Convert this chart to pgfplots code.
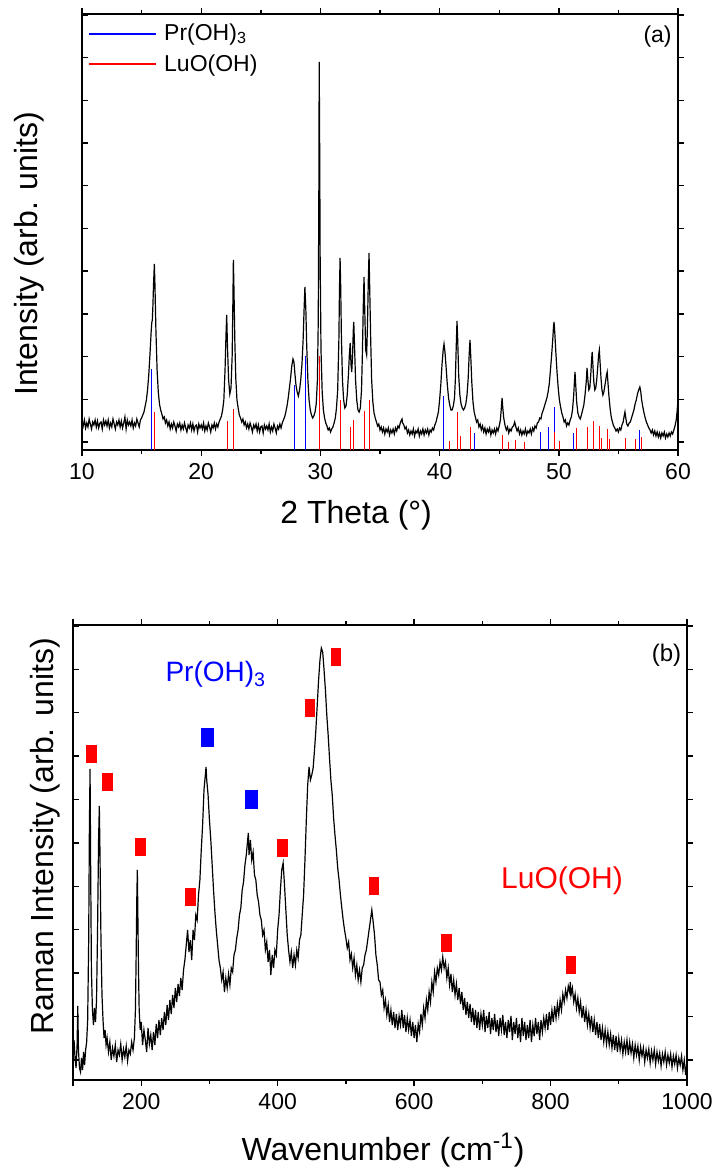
\documentclass[border=0pt]{standalone}
\usepackage{fontspec}
\setmainfont{Liberation Sans}
\usepackage{pgfplots}
\pgfplotsset{compat=1.18}

\newcommand{\ticksize}{\fontsize{11.5}{13.8}\selectfont}
\newcommand{\labsize}{\fontsize{16}{19.2}\selectfont}

\pgfplotsset{
  panel/.style={
    scale only axis,
    axis line style={line width=0.9pt},
    every tick/.style={black, line width=0.7pt},
    xtick align=outside,
    ytick align=inside,
    major tick length=3pt,
    minor tick length=2pt,
    xtick pos=both,
    ytick pos=left,
    yticklabels={},
    ymin=0,
    /pgf/number format/assume math mode=true,
    /pgf/number format/1000 sep={},
    tick label style={font=\ticksize},
    label style={font=\labsize},
  },
  rightticks/.style={
    scale only axis,
    axis line style={line width=0.9pt},
    every tick/.style={black, line width=0.7pt},
    major tick length=3pt,
    axis x line=none,
    axis y line*=right,
    ytick align=outside,
    yticklabels={},
    ymin=0,
  },
}

\begin{document}
\begin{tikzpicture}
\path[use as bounding box] (0,0) rectangle (359.5pt,588pt);

% (a) XRD pattern
\begin{axis}[panel,
  at={(41pt,363pt)}, anchor=south west,
  width=298pt, height=218pt,
  xmin=10, xmax=60, ymax=436,
  xtick={10,20,...,60}, minor x tick num=1,
  ytick={8,50.7,93.4,136.1,178.8,221.5,264.2,306.9,349.6,392.3,435},
  xlabel={2 Theta (°)},
  ylabel={Intensity (arb. units)},
  xlabel style={at={(axis description cs:0.46,-0.149)}, anchor=center},
  ylabel style={at={(axis description cs:-0.088,0.45)}, anchor=center},
  legend style={draw=none, fill=none, font=\ticksize,
    at={(axis description cs:0.005,0.997)}, anchor=north west,
    row sep=1.5pt, inner xsep=2pt},
  legend cell align=left,
]
\addlegendimage{legend image code/.code={\fill[blue] (0pt,-0.3pt) rectangle (33pt,0.3pt);}}
\addlegendentry{\hspace{2pt}Pr(OH)\textsubscript{3}}
\addlegendimage{legend image code/.code={\fill[red] (0pt,-0.3pt) rectangle (33pt,0.3pt);}}
\addlegendentry{\hspace{2pt}LuO(OH)}
\addplot[black, line width=0.6pt, forget plot] coordinates {
(10.0,29)(10.1,24)(10.2,30)(10.3,22)(10.4,27)(10.5,23)(10.6,31)(10.7,26)(10.8,21)(10.9,28)
(11.0,25)(11.1,30)(11.2,23)(11.3,29)(11.4,22)(11.5,27)(11.6,28)(11.7,21)(11.8,30)(11.9,25)
(12.0,29)(12.1,24)(12.2,30)(12.3,22)(12.4,27)(12.5,23)(12.6,31)(12.7,26)(12.8,21)(12.9,28)
(13.0,25)(13.1,30)(13.2,23)(13.3,29)(13.4,22)(13.5,27)(13.6,33)(13.7,21)(13.8,30)(13.9,25)
(14.0,28)(14.1,24)(14.2,30)(14.3,22)(14.4,27)(14.5,24)(14.6,31)(14.7,27)(14.8,23)(14.9,30)
(15.0,32)(15.1,35)(15.2,38)(15.3,44)(15.4,50)(15.5,60)(15.6,75)(15.7,95)(15.8,118)(15.85,127)
(15.9,130)(15.95,145)(16.0,165)(16.07,186)(16.12,165)(16.2,120)(16.3,80)(16.4,58)(16.5,46)(16.6,40)
(16.7,36)(16.8,31)(16.9,33)(17.0,27)(17.1,30)(17.2,24)(17.3,28)(17.4,21)(17.5,26)(17.6,22)
(17.7,28)(17.8,24)(17.9,19)(18.0,26)(18.1,23)(18.2,27)(18.3,20)(18.4,25)(18.5,21)(18.6,27)
(18.7,22)(18.8,18)(18.9,25)(19.0,22)(19.1,27)(19.2,20)(19.3,26)(19.4,19)(19.5,24)(19.6,25)
(19.7,18)(19.8,26)(19.9,22)(20.0,25)(20.1,21)(20.2,27)(20.3,19)(20.4,24)(20.5,20)(20.6,27)
(20.7,23)(20.8,18)(20.9,25)(21.0,22)(21.1,27)(21.2,21)(21.3,26)(21.4,23)(21.5,28)(21.6,31)
(21.7,34)(21.8,40)(21.9,50)(22.0,80)(22.08,115)(22.14,135)(22.2,105)(22.3,70)(22.4,56)(22.5,62)
(22.6,95)(22.66,150)(22.7,190)(22.75,160)(22.82,110)(22.9,72)(23.0,50)(23.1,42)(23.2,35)(23.3,32)
(23.4,28)(23.5,31)(23.6,25)(23.7,28)(23.8,22)(23.9,26)(24.0,21)(24.1,27)(24.2,23)(24.3,18)
(24.4,25)(24.5,22)(24.6,26)(24.7,19)(24.8,25)(24.9,18)(25.0,23)(25.1,24)(25.2,17)(25.3,25)
(25.4,21)(25.5,24)(25.6,20)(25.7,26)(25.8,18)(25.9,23)(26.0,19)(26.1,26)(26.2,22)(26.3,17)
(26.4,24)(26.5,21)(26.6,26)(26.7,22)(26.8,27)(26.9,30)(27.0,33)(27.1,38)(27.2,44)(27.3,52)
(27.4,62)(27.5,72)(27.6,84)(27.7,91)(27.78,88)(27.85,78)(27.95,65)(28.05,58)(28.15,54)(28.25,60)
(28.35,70)(28.45,85)(28.55,110)(28.63,140)(28.7,163)(28.78,140)(28.85,105)(28.95,70)(29.05,50)(29.15,40)
(29.25,35)(29.35,32)(29.45,34)(29.55,38)(29.65,46)(29.75,70)(29.82,130)(29.87,260)(29.9,388)(29.94,300)
(29.98,190)(30.05,100)(30.15,58)(30.25,40)(30.35,32)(30.45,27)(30.55,24)(30.65,20)(30.75,22)(30.85,18)
(30.95,21)(31.05,23)(31.15,27)(31.25,32)(31.35,42)(31.45,60)(31.55,110)(31.6,160)(31.65,192)(31.7,165)
(31.76,115)(31.85,70)(31.95,50)(32.05,42)(32.15,44)(32.25,55)(32.35,75)(32.43,95)(32.5,107)(32.57,85)
(32.63,78)(32.7,95)(32.76,120)(32.8,128)(32.86,105)(32.95,70)(33.05,50)(33.15,40)(33.25,38)(33.35,42)
(33.45,60)(33.52,95)(33.6,145)(33.66,173)(33.72,140)(33.8,100)(33.88,95)(33.95,125)(34.02,170)(34.08,197)
(34.14,160)(34.22,110)(34.3,70)(34.4,48)(34.5,37)(34.6,32)(34.7,28)(34.8,24)(34.9,26)(35.0,20)
(35.1,23)(35.2,18)(35.3,22)(35.4,16)(35.5,21)(35.6,18)(35.7,22)(35.8,15)(35.9,20)(36.0,17)
(36.1,21)(36.2,16)(36.3,22)(36.4,19)(36.5,24)(36.6,22)(36.7,27)(36.8,30)(36.85,31)(36.9,27)
(37.0,25)(37.1,21)(37.2,23)(37.3,17)(37.4,20)(37.5,15)(37.6,19)(37.7,16)(37.8,21)(37.9,14)
(38.0,19)(38.1,17)(38.2,21)(38.3,14)(38.4,19)(38.5,16)(38.6,21)(38.7,15)(38.8,20)(38.9,17)
(39.0,21)(39.1,15)(39.2,20)(39.3,18)(39.4,22)(39.5,20)(39.6,25)(39.7,28)(39.8,33)(39.9,38)
(40.0,50)(40.1,65)(40.2,85)(40.3,100)(40.37,106)(40.45,98)(40.55,82)(40.65,65)(40.75,52)(40.85,45)
(40.95,40)(41.05,40)(41.15,44)(41.25,52)(41.32,70)(41.4,105)(41.46,129)(41.52,110)(41.6,75)(41.7,55)
(41.8,46)(41.9,42)(42.0,40)(42.1,42)(42.2,46)(42.3,55)(42.4,72)(42.48,95)(42.55,110)(42.62,92)
(42.7,68)(42.8,48)(42.9,38)(43.0,33)(43.1,28)(43.2,30)(43.3,23)(43.4,26)(43.5,20)(43.6,24)
(43.7,18)(43.8,22)(43.9,16)(44.0,21)(44.1,18)(44.2,22)(44.3,15)(44.4,20)(44.5,17)(44.6,21)
(44.7,16)(44.8,22)(44.9,19)(45.0,24)(45.1,30)(45.18,42)(45.24,52)(45.3,42)(45.38,32)(45.5,24)
(45.6,20)(45.7,23)(45.8,17)(45.9,21)(46.0,19)(46.1,23)(46.2,24)(46.3,28)(46.4,23)(46.5,19)
(46.6,22)(46.7,16)(46.8,20)(46.9,15)(47.0,19)(47.1,16)(47.2,21)(47.3,15)(47.4,19)(47.5,17)
(47.6,21)(47.7,16)(47.8,22)(47.9,19)(48.0,24)(48.1,22)(48.2,27)(48.3,28)(48.4,32)(48.5,31)
(48.6,37)(48.7,40)(48.8,44)(48.9,48)(49.0,52)(49.1,58)(49.2,66)(49.3,80)(49.4,95)(49.5,112)
(49.56,124)(49.6,128)(49.66,118)(49.75,98)(49.85,78)(49.95,62)(50.05,50)(50.15,43)(50.25,37)(50.35,33)
(50.45,28)(50.55,30)(50.65,24)(50.75,27)(50.85,25)(50.95,30)(51.05,33)(51.15,40)(51.25,55)(51.32,70)
(51.36,78)(51.42,65)(51.5,48)(51.6,37)(51.7,33)(51.8,31)(51.9,35)(52.0,40)(52.1,45)(52.2,55)
(52.3,68)(52.37,82)(52.44,70)(52.52,60)(52.6,62)(52.68,75)(52.75,90)(52.8,98)(52.86,85)(52.94,68)
(53.02,60)(53.1,62)(53.18,70)(53.26,82)(53.34,95)(53.4,100)(53.46,88)(53.54,72)(53.62,60)(53.7,55)
(53.78,58)(53.86,64)(53.94,70)(54.0,75)(54.06,78)(54.12,68)(54.2,55)(54.3,42)(54.4,33)(54.5,28)
(54.6,24)(54.7,22)(54.8,19)(54.9,21)(55.0,18)(55.1,22)(55.2,20)(55.3,25)(55.4,28)(55.5,35)
(55.55,38)(55.62,32)(55.7,26)(55.8,24)(55.9,27)(56.0,28)(56.1,32)(56.2,36)(56.3,40)(56.4,46)
(56.5,50)(56.6,56)(56.7,60)(56.8,63)(56.88,58)(56.95,50)(57.05,43)(57.15,37)(57.25,32)(57.35,28)
(57.45,25)(57.55,22)(57.65,20)(57.75,17)(57.85,20)(57.95,15)(58.05,19)(58.15,14)(58.25,18)(58.35,13)
(58.45,17)(58.55,12)(58.65,17)(58.75,14)(58.85,18)(58.95,12)(59.05,16)(59.15,13)(59.25,17)(59.35,14)
(59.45,18)(59.55,16)(59.65,20)(59.75,24)(59.85,30)(59.92,38)(60.0,50)
};
% Pr(OH)3 reference lines
\addplot[blue, ycomb, line width=0.5pt, forget plot] coordinates {
(15.85,81)(27.84,65)(28.73,94)(40.29,54)(42.92,17)(48.45,18)(49.12,23)(49.6,43)(51.25,17)(56.73,20)
};
% LuO(OH) reference lines
\addplot[red, ycomb, line width=0.5pt, forget plot] coordinates {
(16.12,38)(22.17,29)(22.72,41)(29.94,94)(31.65,50)(32.54,23)(32.79,30)(33.71,39)(34.1,50)
(40.79,9)(41.49,38)(41.74,14)(42.58,23)(45.27,15)(45.74,8)(46.38,10)(47.11,8)(49.68,18)(50.1,9)
(51.47,22)(52.42,23)(52.87,29)(53.43,24)(53.57,12)(54.1,21)(54.27,11)(55.58,12)(56.45,11)(56.92,13)(60.0,16)
};
\node[anchor=base east, inner sep=0pt, font=\ticksize] at (axis cs:59.5,407) {(a)};
\end{axis}
\begin{axis}[rightticks,
  at={(41pt,363pt)}, anchor=south west,
  width=298pt, height=218pt,
  xmin=10, xmax=60, ymax=436,
  ytick={8,50.7,93.4,136.1,178.8,221.5,264.2,306.9,349.6,392.3,435},
]
\end{axis}

% (b) Raman spectrum
\begin{axis}[panel,
  at={(36.5pt,48pt)}, anchor=south west,
  width=307pt, height=227.5pt,
  xmin=100, xmax=1000, ymax=455,
  xtick={200,400,...,1000}, minor x tick num=1,
  extra x ticks={100}, extra x tick labels={},
  ytick={20,63.4,106.8,150.2,193.6,237,280.4,323.8,367.2,410.6,454},
  xlabel={Wavenumber (cm\textsuperscript{-1})},
  ylabel={Raman Intensity (arb. units)},
  xlabel style={at={(axis description cs:0.505,-0.154)}, anchor=center},
  ylabel style={at={(axis description cs:-0.046,0.536)}, anchor=center},
]
\addplot[black, line width=0.6pt] coordinates {
(100,28)(101.5,40)(103,22)(104.5,12)(106,35)(107,74)(108,30)(109.5,12)(111,8)(112.5,22)
(114,10)(115.5,28)(117,15)(118.5,30)(120,38)(121.5,60)(123,140)(124,250)(125,311)(126,200)
(127,110)(128.5,70)(130,55)(131.5,72)(133,58)(134.5,80)(136,150)(137.5,240)(138.6,274)(139.5,230)
(141,140)(142.5,85)(144,60)(145.5,42)(147,50)(148.5,35)(150,42)(152,28)(154,38)(156,20)
(158,32)(160,24)(162,35)(164,18)(166,30)(168,25)(170,36)(172,20)(174,31)(176,23)
(178,34)(180,19)(182,30)(184,26)(186,38)(188,30)(190,42)(191.5,70)(192.5,120)(193.5,180)
(194.3,210)(195,170)(196,110)(197,70)(198.5,50)(200,58)(202,35)(204,50)(206,40)(208,28)
(210,52)(212,36)(214,45)(216,30)(218,48)(220,35)(222,56)(224,42)(226,60)(228,45)
(230,62)(232,50)(234,68)(236,55)(238,75)(240,60)(242,80)(244,66)(246,85)(248,72)
(250,92)(252,78)(254,96)(256,84)(258,102)(260,90)(262,110)(264,120)(266,135)(268,150)
(270,128)(272,140)(274,120)(276,150)(278,140)(280,165)(282,160)(284,185)(286,200)(288,230)
(290,255)(292,290)(294,305)(295,313)(296,300)(298,285)(300,260)(302,240)(304,215)(306,190)
(308,168)(310,150)(312,135)(314,120)(316,112)(318,100)(320,108)(322,88)(324,102)(326,92)
(328,106)(330,95)(332,112)(334,108)(336,125)(338,130)(340,142)(342,150)(344,165)(346,172)
(348,190)(350,198)(352,215)(354,225)(356,240)(357,247)(358,225)(360,240)(362,220)(364,228)
(366,205)(368,200)(370,185)(372,178)(374,165)(376,160)(378,145)(380,150)(382,130)(384,138)
(386,118)(388,130)(390,105)(392,125)(394,112)(396,130)(398,125)(400,150)(402,165)(404,190)
(406,210)(408,217)(410,195)(412,170)(414,145)(416,130)(418,118)(420,128)(422,112)(424,125)
(426,115)(428,130)(430,122)(432,140)(434,145)(436,165)(438,185)(440,220)(442,260)(444,295)
(446,313)(448,300)(450,305)(452,312)(454,330)(456,350)(458,375)(460,400)(462,420)(464,432)
(466,428)(468,410)(470,390)(472,365)(474,345)(476,322)(478,300)(480,285)(482,262)(484,245)
(486,230)(488,212)(490,200)(492,185)(494,172)(496,160)(498,150)(500,142)(502,132)(504,138)
(506,120)(508,126)(510,112)(512,122)(514,105)(516,115)(518,100)(520,110)(522,98)(524,112)
(526,115)(528,125)(530,130)(532,140)(534,150)(536,160)(538,170)(540,158)(542,145)(544,125)
(546,115)(548,100)(550,98)(552,85)(554,90)(556,72)(558,80)(560,65)(562,75)(564,58)
(566,70)(568,55)(570,68)(572,52)(574,66)(576,50)(578,64)(580,55)(582,70)(584,52)
(586,65)(588,48)(590,62)(592,50)(594,60)(596,44)(598,58)(600,42)(602,55)(604,38)
(606,56)(608,48)(610,66)(612,55)(614,72)(616,62)(618,80)(620,70)(622,88)(624,78)
(626,98)(628,88)(630,108)(632,98)(634,112)(636,105)(638,118)(640,110)(642,123)(644,112)
(646,118)(648,102)(650,112)(652,95)(654,106)(656,88)(658,100)(660,85)(662,96)(664,80)
(666,92)(668,76)(670,88)(672,70)(674,82)(676,65)(678,78)(680,62)(682,76)(684,58)
(686,72)(688,55)(690,70)(692,52)(694,68)(696,50)(698,66)(700,55)(702,70)(704,48)
(706,64)(708,52)(710,68)(712,46)(714,62)(716,50)(718,66)(720,48)(722,60)(724,44)
(726,62)(728,50)(730,65)(732,45)(734,58)(736,42)(738,60)(740,48)(742,64)(744,40)
(746,58)(748,46)(750,62)(752,42)(754,56)(756,38)(758,62)(760,44)(762,58)(764,40)
(766,55)(768,42)(770,60)(772,38)(774,55)(776,44)(778,62)(780,46)(782,58)(784,40)
(786,60)(788,48)(790,62)(792,52)(794,66)(796,50)(798,68)(800,55)(802,70)(804,58)
(806,74)(808,62)(810,76)(812,65)(814,80)(816,70)(818,86)(820,78)(822,90)(824,82)
(826,94)(828,88)(829,98)(830,85)(832,92)(834,78)(836,86)(838,72)(840,82)(842,68)
(844,78)(846,62)(848,74)(850,58)(852,70)(854,55)(856,66)(858,52)(860,64)(862,48)
(864,60)(866,45)(868,58)(870,42)(872,56)(874,40)(876,52)(878,38)(880,50)(882,36)
(884,48)(886,35)(888,46)(890,32)(892,45)(894,30)(896,44)(898,28)(900,42)(902,30)
(904,40)(906,26)(908,38)(910,28)(912,40)(914,25)(916,38)(918,27)(920,36)(922,22)
(924,35)(926,25)(928,34)(930,20)(932,33)(934,24)(936,32)(938,18)(940,30)(942,22)
(944,31)(946,17)(948,29)(950,20)(952,30)(954,16)(956,28)(958,19)(960,27)(962,14)
(964,26)(966,18)(968,28)(970,15)(972,25)(974,17)(976,26)(978,13)(980,24)(982,16)
(984,25)(986,12)(988,22)(990,15)(992,24)(994,10)(996,20)(998,5)(1000,18)
};
% LuO(OH) band markers
\addplot[only marks, mark=square*, mark size=2.4pt, mark options={red, fill=red, yscale=1.75, line width=0pt}] coordinates {
(127.4,326)(150.3,298)(199.2,233)(272.5,183)(406.9,232)(447.5,372)(485.6,423)(541.3,194)(647.3,137)(830,115)
};
% Pr(OH)3 band markers
\addplot[only marks, mark=square*, mark size=3pt, mark options={blue, fill=blue, yscale=1.5, line width=0pt}] coordinates {
(296.5,342)(361.5,280)
};
\node[anchor=base west, inner sep=0pt, text=blue, font=\fontsize{14}{16.8}\selectfont] at (axis cs:235,398) {Pr(OH)\textsubscript{3}};
\node[anchor=base west, inner sep=0pt, text=red, font=\fontsize{15}{18}\selectfont] at (axis cs:727,191) {LuO(OH)};
\node[anchor=base east, inner sep=0pt, font=\fontsize{12}{14.4}\selectfont] at (axis cs:992,418) {(b)};
\end{axis}
\begin{axis}[rightticks,
  at={(36.5pt,48pt)}, anchor=south west,
  width=307pt, height=227.5pt,
  xmin=100, xmax=1000, ymax=455,
  ytick={20,63.4,106.8,150.2,193.6,237,280.4,323.8,367.2,410.6,454},
]
\end{axis}
\end{tikzpicture}
\end{document}
